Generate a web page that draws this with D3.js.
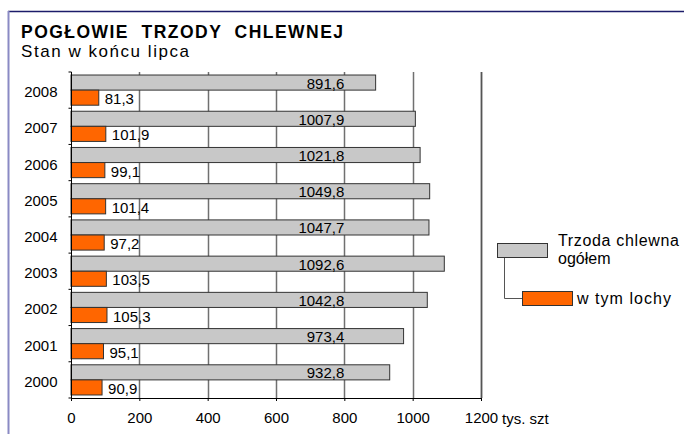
<!DOCTYPE html>
<html>
<head>
<meta charset="utf-8">
<script src="https://cdn.jsdelivr.net/npm/d3@7"></script>
<style>
  html, body { margin: 0; padding: 0; background: #fff; }
  svg { display: block; font-family: "Liberation Sans", Arial, sans-serif; }
</style>
</head>
<body>
<svg id="chart" width="684" height="434"></svg>
<script>
  'use strict';

  var years = ["2008", "2007", "2006", "2005", "2004", "2003", "2002", "2001", "2000"];
  var totalHerd = [891.6, 1007.9, 1021.8, 1049.8, 1047.7, 1092.6, 1042.8, 973.4, 932.8];
  var sows = [81.3, 101.9, 99.1, 101.4, 97.2, 103.5, 105.3, 95.1, 90.9];
  var xTicks = [0, 200, 400, 600, 800, 1000, 1200];
  var seriesKeys = ["total", "sows"];
  var seriesNames = ["Trzoda chlewna", "ogółem", "w tym lochy"];
  var unitLabel = "tys. szt";
  var title = "POGŁOWIE  TRZODY  CHLEWNEJ";
  var subtitle = "Stan w końcu lipca";

  var colors = { total: "#c8c8c8", sows: "#ff6600" };
  var margin = { top: 72, left: 71, right: 203, bottom: 36 };
  var width = 684, height = 434;

  var pl = d3.formatLocale({ decimal: ",", thousands: " ", grouping: [3], currency: ["", " zł"] });
  var fmt = pl.format(".1f");

  var rows = years.map(function (y, i) {
    return { year: y, total: totalHerd[i], sows: sows[i] };
  });

  var svg = d3.select("#chart");

  // frame
  svg.append("line").attr("x1", 8).attr("x2", width).attr("y1", 11.5).attr("y2", 11.5)
    .attr("stroke", "#1c1c6a").attr("stroke-width", 1.5);
  svg.append("line").attr("x1", 8.5).attr("x2", 8.5).attr("y1", 11).attr("y2", height)
    .attr("stroke", "#8a8ac4").attr("stroke-width", 2);

  // titles
  svg.append("text").attr("x", 21).attr("y", 38)
    .attr("font-size", 17.5).attr("font-weight", "bold")
    .attr("textLength", 322).attr("lengthAdjust", "spacing")
    .style("white-space", "pre").text(title);
  svg.append("text").attr("x", 21).attr("y", 57)
    .attr("font-size", 17)
    .attr("textLength", 168).attr("lengthAdjust", "spacing")
    .text(subtitle);

  var x = d3.scaleLinear().domain([0, 1200]).range([margin.left, width - margin.right]);
  var y = d3.scaleBand().domain(years).range([margin.top, height - margin.bottom]);
  var inner = d3.scaleBand().domain(seriesKeys).range([0, y.bandwidth()]).paddingOuter(0.2);

  var plotTop = y.range()[0], plotBottom = y.range()[1];

  // gridlines
  svg.append("g").attr("class", "grid")
    .selectAll("line").data(xTicks.slice(1)).enter().append("line")
    .attr("x1", function (d) { return Math.round(x(d)) + 0.5; })
    .attr("x2", function (d) { return Math.round(x(d)) + 0.5; })
    .attr("y1", plotTop).attr("y2", plotBottom)
    .attr("stroke", "#707070").attr("stroke-width", 1.5);

  // bars
  var groups = svg.append("g").attr("class", "bars")
    .selectAll("g").data(rows).enter().append("g")
    .attr("transform", function (d) { return "translate(0," + y(d.year) + ")"; });

  seriesKeys.forEach(function (key) {
    groups.append("rect")
      .attr("class", "bar " + key)
      .attr("x", x(0))
      .attr("y", inner(key))
      .attr("width", function (d) { return x(d[key]) - x(0); })
      .attr("height", inner.bandwidth())
      .attr("fill", colors[key])
      .attr("stroke", "#333")
      .attr("stroke-width", 1);
  });

  // value labels
  groups.append("text")
    .attr("x", x(800))
    .attr("y", inner("total") + inner.bandwidth() - 1.5)
    .attr("text-anchor", "end")
    .attr("font-size", 15)
    .text(function (d) { return fmt(d.total); });
  groups.append("text")
    .attr("x", function (d) { return x(d.sows) + 6; })
    .attr("y", inner("sows") + inner.bandwidth() - 1)
    .attr("font-size", 15)
    .text(function (d) { return fmt(d.sows); });

  // x axis
  var xAxis = svg.append("g")
    .attr("transform", "translate(0," + plotBottom + ")")
    .call(d3.axisBottom(x).tickValues(xTicks).tickFormat(d3.format("d"))
      .tickSize(3).tickPadding(11).tickSizeOuter(0))
    .attr("font-family", null).attr("font-size", 15);
  xAxis.select(".domain").attr("stroke", "#000");
  xAxis.selectAll(".tick line").attr("stroke", "#000");
  xAxis.selectAll("text").attr("fill", "#000");

  svg.append("text").attr("x", 502).attr("y", 424)
    .attr("font-size", 15).text(unitLabel);

  // right edge of the plot at 1200
  svg.append("line")
    .attr("x1", Math.round(x(1200)) + 0.5).attr("x2", Math.round(x(1200)) + 0.5)
    .attr("y1", plotTop).attr("y2", plotBottom)
    .attr("stroke", "#555").attr("stroke-width", 1.5);

  // y axis: boundary ticks, year labels centred in the band
  var yAxis = svg.append("g").attr("transform", "translate(" + (margin.left + 0.5) + ",0)");
  yAxis.append("line").attr("y1", plotTop).attr("y2", plotBottom).attr("stroke", "#000");
  yAxis.selectAll("line.tick").data(years.map(function (d) { return y(d); }).concat(plotBottom))
    .enter().append("line").attr("class", "tick")
    .attr("x1", -3).attr("x2", 0)
    .attr("y1", function (d) { return d; }).attr("y2", function (d) { return d; })
    .attr("stroke", "#000");
  yAxis.selectAll("text").data(years).enter().append("text")
    .attr("x", -14)
    .attr("y", function (d) { return y(d) + y.bandwidth() / 2 + 7; })
    .attr("text-anchor", "end")
    .attr("font-size", 15)
    .text(function (d) { return d; });

  // legend
  var legend = svg.append("g").attr("class", "legend");
  legend.append("path")
    .attr("d", "M504.5,257V298.5H522")
    .attr("fill", "none").attr("stroke", "#555");
  legend.append("rect").attr("x", 497.5).attr("y", 243.5).attr("width", 50).attr("height", 14)
    .attr("fill", colors.total).attr("stroke", "#333");
  legend.append("rect").attr("x", 522.5).attr("y", 291.5).attr("width", 50).attr("height", 14)
    .attr("fill", colors.sows).attr("stroke", "#333");
  legend.append("text").attr("x", 558).attr("y", 246).attr("font-size", 16)
    .attr("textLength", 121).attr("lengthAdjust", "spacing").text(seriesNames[0]);
  legend.append("text").attr("x", 558).attr("y", 264).attr("font-size", 16).text(seriesNames[1]);
  legend.append("text").attr("x", 577).attr("y", 304).attr("font-size", 16)
    .attr("textLength", 94).attr("lengthAdjust", "spacing").text(seriesNames[2]);
</script>
</body>
</html>
